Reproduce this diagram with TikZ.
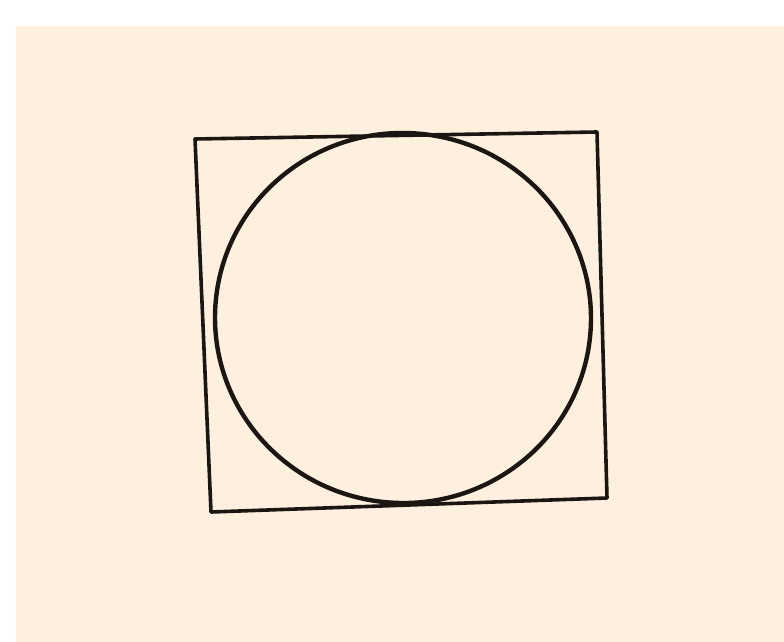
\documentclass[tikz,border=0pt]{standalone}
\begin{document}
\begin{tikzpicture}[x=1pt,y=-1pt,
  ink/.style={draw=inkc,line cap=round,line join=round}]
\definecolor{paper}{HTML}{FDF0DF}
\definecolor{inkc}{HTML}{1C1612}
\useasboundingbox (0,0) rectangle (784,642);
\fill[white] (0,0) rectangle (784,642);
\fill[paper] (16,26) rectangle (784,642);
\coordinate (tl) at (195,139);
\coordinate (tr) at (597,132);
\coordinate (br) at (607,498);
\coordinate (bl) at (211,512);
\draw[ink,line width=3.6pt] (tl) -- (tr) -- (br) -- (bl) -- cycle;
\coordinate (c) at (403,318);
\draw[ink,line width=4.4pt,rotate around={-4:(c)}] (c) ellipse [x radius=188, y radius=185];
\end{tikzpicture}
\end{document}
